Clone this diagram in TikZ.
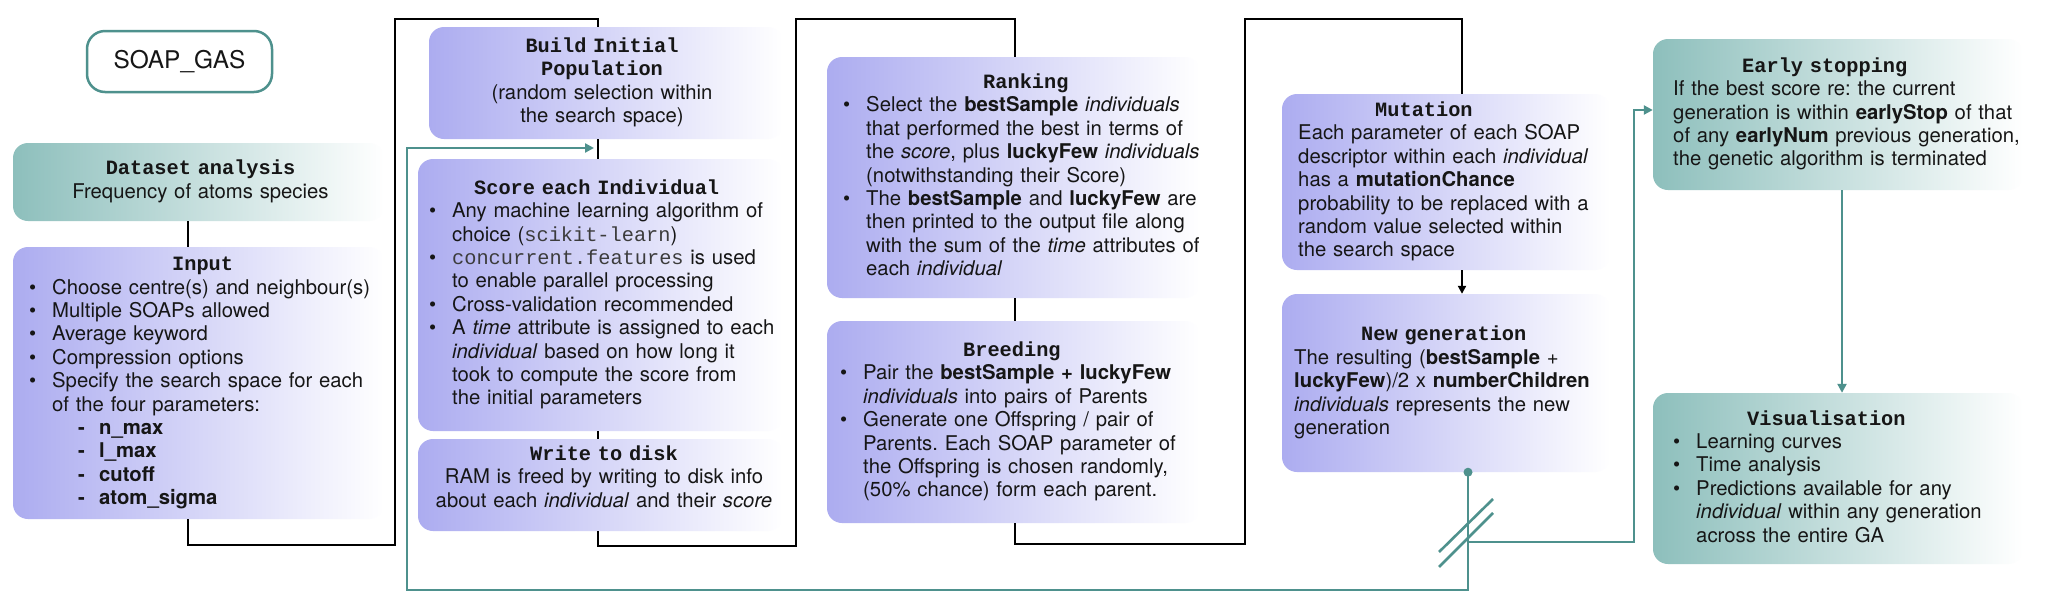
\documentclass[tikz,border=0pt]{standalone}
\usepackage{fontspec}
\setmainfont{TeX Gyre Heros}
\newfontfamily\monof{Liberation Mono}
\usetikzlibrary{arrows.meta}
\frenchspacing
\definecolor{lav}{RGB}{172,172,240}
\definecolor{tealL}{RGB}{141,191,188}
\definecolor{tealD}{RGB}{78,145,141}
\definecolor{ink}{RGB}{22,22,22}
\definecolor{codegray}{RGB}{60,60,60}
\newcommand\ttl[1]{{\monof\bfseries #1}}
\newcommand\cd[1]{{\monof\color{codegray}#1}}
\newcommand\bul{\makebox[23pt][l]{\textbullet}}
\newcommand\cont{\hspace*{23pt}}
\newcommand\subit[1]{\hspace*{49pt}\makebox[21pt][l]{\textbf{-}}\textbf{#1}}
\begin{document}
\begin{tikzpicture}[x=1pt,y=-1pt,
  lavbox/.style={rounded corners=15pt, left color=lav, right color=white, draw=none, inner sep=0pt},
  tealbox/.style={rounded corners=15pt, left color=tealL, right color=white, draw=none, inner sep=0pt},
  txt/.style={inner sep=0pt, text=ink, font=\fontsize{20.3}{23.4}\selectfont\frenchspacing, align=left, text width=420pt, anchor=west},
  ctxt/.style={inner sep=0pt, text=ink, font=\fontsize{20.3}{23.4}\selectfont\frenchspacing, align=center},
  blk/.style={draw=black, line width=2pt, line join=miter},
  tl/.style={draw=tealD, line width=2.6pt, line join=miter},
  tip/.style={-{Triangle[width=9pt,length=9pt]}}
]
\fill[white] (0,0) rectangle (2048,614);
\useasboundingbox (0,0) rectangle (2048,614);

% boxes
\node[draw=tealD, line width=2.5pt, rounded corners=18pt, fill=white, minimum width=185pt, minimum height=61pt, inner sep=0pt, text=ink, font=\fontsize{24.4}{28}\selectfont] (soap) at (179.5,61.5) {SOAP\_GAS};
\node[tealbox, minimum width=371pt, minimum height=78pt] (dataset) at (198.5,182) {};
\node[lavbox, minimum width=371pt, minimum height=272pt] (input) at (198.5,383) {};
\node[lavbox, minimum width=354pt, minimum height=112pt] (build) at (606,83) {};
\node[lavbox, minimum width=365pt, minimum height=272pt] (score) at (600.5,295) {};
\node[lavbox, minimum width=365pt, minimum height=92pt] (write) at (600.5,485) {};
\node[lavbox, minimum width=373pt, minimum height=241pt] (ranking) at (1013.5,177.5) {};
\node[lavbox, minimum width=373pt, minimum height=202pt] (breeding) at (1013.5,422) {};
\node[lavbox, minimum width=328pt, minimum height=176pt] (mutation) at (1446,182) {};
\node[lavbox, minimum width=328pt, minimum height=178pt] (newgen) at (1446,383) {};
\node[tealbox, minimum width=370pt, minimum height=151pt] (early) at (1838,114.5) {};
\node[tealbox, minimum width=370pt, minimum height=171pt] (vis) at (1838,478.5) {};

% texts
\node[ctxt, text width=370pt] (dataT) at (200.5,182) {\strut\ttl{Dataset analysis}\\Frequency of atoms species\strut};
\node[txt] (inputT) at (29,383) {\strut\hspace*{143pt}\ttl{Input}\\
\bul Choose centre(s) and neighbour(s)\\
\bul Multiple SOAPs allowed\\
\bul Average keyword\\
\bul Compression options\\
\bul Specify the search space for each\\
\cont of the four parameters:\\
\subit{n\_max}\\
\subit{l\_max}\\
\subit{cutoff}\\
\subit{atom\_sigma}\strut};
\node[ctxt, text width=354pt] (buildT) at (602,83) {\strut\ttl{Build Initial}\\\ttl{Population}\\(random selection within\\the search space)\strut};
\node[txt] (scoreT) at (429,295) {\strut\hspace*{45pt}\ttl{Score each Individual}\\
\bul Any machine learning algorithm of\\
\cont choice (\cd{scikit-learn})\\
\bul \cd{concurrent.features} is used\\
\cont to enable parallel processing\\
\bul Cross-validation recommended\\
\bul A \textit{time} attribute is assigned to each\\
\cont \textit{individual} based on how long it\\
\cont took to compute the score from\\
\cont the initial parameters\strut};
\node[ctxt, text width=380pt] (writeT) at (604,479) {\strut\ttl{Write to disk}\\RAM is freed by writing to disk info\\about each \textit{individual} and their \textit{score}\strut};
\node[txt] (rankT) at (843,177.5) {\strut\hspace*{140pt}\ttl{Ranking}\\
\bul Select the \textbf{bestSample} \textit{individuals}\\
\cont that performed the best in terms of\\
\cont the \textit{score}, plus \textbf{luckyFew} \textit{individuals}\\
\cont (notwithstanding their Score)\\
\bul The \textbf{bestSample} and \textbf{luckyFew} are\\
\cont then printed to the output file along\\
\cont with the sum of the \textit{time} attributes of\\
\cont each \textit{individual}\strut};
\node[txt] (breedT) at (840,422) {\strut\hspace*{123pt}\ttl{Breeding}\\
\bul Pair the \textbf{bestSample + luckyFew}\\
\cont \textit{individuals} into pairs of Parents\\
\bul Generate one Offspring / pair of\\
\cont Parents. Each SOAP parameter of\\
\cont the Offspring is chosen randomly,\\
\cont (50\% chance) form each parent.\strut};
\node[txt] (mutT) at (1298,182) {\strut\hspace*{77pt}\ttl{Mutation}\\
Each parameter of each SOAP\\
descriptor within each \textit{individual}\\
has a \textbf{mutationChance}\\
probability to be replaced with a\\
random value selected within\\
the search space\strut};
\node[txt] (newT) at (1294,383) {\strut\hspace*{67pt}\ttl{New generation}\\
The resulting (\textbf{bestSample} +\\
\textbf{luckyFew})/2 x \textbf{numberChildren}\\
\textit{individuals} represents the new\\
generation\strut};
\node[txt] (earlyT) at (1673,114.5) {\strut\hspace*{69pt}\ttl{Early stopping}\\
If the best score re: the current\\
generation is within \textbf{earlyStop} of that\\
of any \textbf{earlyNum} previous generation,\\
the genetic algorithm is terminated\strut};
\node[txt] (visT) at (1673,479) {\strut\hspace*{74pt}\ttl{Visualisation}\\
\bul Learning curves\\
\bul Time analysis\\
\bul Predictions available for any\\
\cont \textit{individual} within any generation\\
\cont across the entire GA\strut};

% black connectors
\draw[blk] ([xshift=-10.5pt]dataset.south) -- ([xshift=-10.5pt]input.north);
\draw[blk] ([xshift=-10.5pt]input.south) |- (395,545) -- (395,19) -| ([xshift=-8pt]build.north);
\draw[blk] ([xshift=-8pt]build.south) -- ([xshift=-2.5pt]score.north);
\draw[blk] ([xshift=-2.5pt]score.south) -- ([xshift=-2.5pt]write.north);
\draw[blk] ([xshift=-2.5pt]write.south) |- (796,546) -- (796,19) -| ([xshift=1.5pt]ranking.north);
\draw[blk] ([xshift=1.5pt]ranking.south) -- ([xshift=1.5pt]breeding.north);
\draw[blk] ([xshift=1.5pt]breeding.south) |- (1245,544) -- (1245,19) -| ([xshift=16pt]mutation.north);
\draw[blk, -{Triangle[width=8pt,length=8pt]}] ([xshift=16pt]mutation.south) -- ([xshift=16pt]newgen.north);

% teal connectors
\coordinate (split) at (1468,542);
\coordinate (loopend) at (594,148);
\draw[tl, tip] ([xshift=22pt]newgen.south) |- (407,590) |- (loopend);
\fill[tealD] ([xshift=22pt]newgen.south) circle (4.5pt);
\draw[tl, tip] (split) -| (1634,110) -- ([yshift=4.5pt]early.west);
\draw[tl] (1439,552) -- (1493,499);
\draw[tl] (1439,567) -- (1493,513);
\draw[tl, tip] ([xshift=4pt]early.south) -- ([xshift=4pt]vis.north);
\end{tikzpicture}
\end{document}
